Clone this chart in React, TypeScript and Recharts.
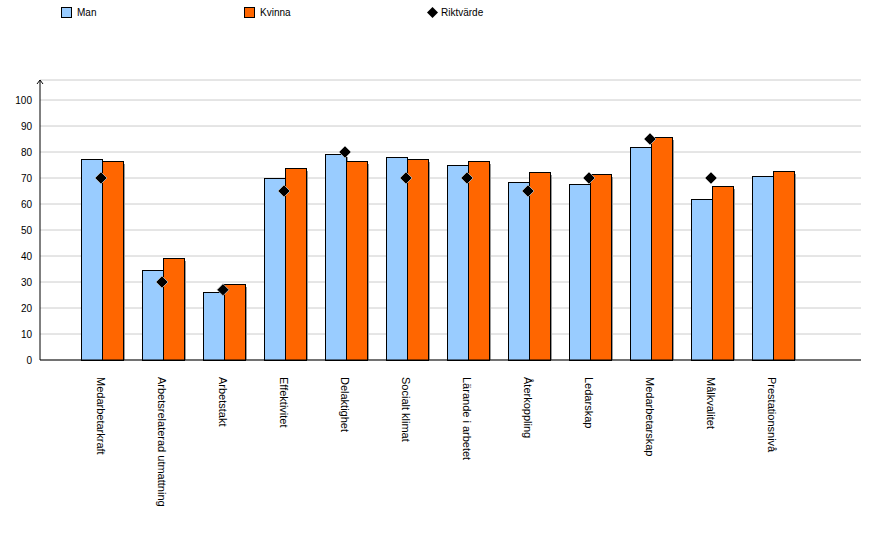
import React from "react";
import {
    ComposedChart,
    Bar,
    Line,
    XAxis,
    YAxis,
    CartesianGrid,
} from "recharts";

const categories = [
    "Medarbetarkraft",
    "Arbetsrelaterad utmattning",
    "Arbetstakt",
    "Effektivitet",
    "Delaktighet",
    "Socialt klimat",
    "Lärande i arbetet",
    "Återkoppling",
    "Ledarskap",
    "Medarbetarskap",
    "Målkvalitet",
    "Prestationsnivå",
];
const man = [77.2, 34.5, 26.0, 69.9, 79.1, 78.0, 74.9, 68.3, 67.6, 81.8, 61.8, 70.7];
const kvinna = [76.4, 39.1, 29.1, 73.7, 76.4, 77.2, 76.4, 72.2, 71.4, 85.6, 66.8, 72.6];
const riktvarde = [70, 30, 27, 65, 80, 70, 70, 65, 70, 85, 70, null];
const yTicks = [0, 10, 20, 30, 40, 50, 60, 70, 80, 90, 100];

const FONT = "'Liberation Sans', Arial, sans-serif";
const BLUE = "#99CCFF";
const ORANGE = "#FF6600";

const data = categories.map((name, i) => ({
    name,
    man: man[i],
    kvinna: kvinna[i],
    rikt: riktvarde[i],
}));

// bar with the grey drop shadow on its right side
const ShadowBar = (props: any) => {
    const { x, y, width, height, fill } = props;
    if (!height || height <= 0) return null;
    const rx = Math.round(x);
    const ry = Math.round(y);
    const rw = Math.round(width);
    const rh = Math.round(height);
    return (
        <g>
            <rect x={rx + 2} y={ry + 3} width={rw} height={rh - 3} fill="#999999" />
            <rect
                x={rx + 0.5}
                y={ry + 0.5}
                width={rw}
                height={rh}
                fill={fill}
                stroke="#000"
                strokeWidth={1}
            />
        </g>
    );
};

const Diamond = (props: any) => {
    const { cx, cy, payload } = props;
    if (payload?.rikt == null || cx == null || cy == null) return null;
    const r = 6;
    return (
        <path
            d={`M${cx},${cy - r} L${cx + r},${cy} L${cx},${cy + r} L${cx - r},${cy} Z`}
            fill="#000"
            stroke="#bbbbbb"
            strokeWidth={0.8}
        />
    );
};

const RotatedTick = (props: any) => {
    const { x, y, payload } = props;
    return (
        <g transform={`translate(${x},${y + 9})`}>
            <text
                transform="rotate(90)"
                textAnchor="start"
                dy="0.35em"
                fontSize={11}
                fontFamily={FONT}
                fill="#000"
            >
                {payload.value}
            </text>
        </g>
    );
};

// little arrow head on top of the y axis
const AxisArrow = (props: any) => {
    const { viewBox } = props;
    if (!viewBox) return null;
    const ax = viewBox.x + viewBox.width;
    const ay = viewBox.y;
    return <path d={`M${ax - 3},${ay + 4} L${ax},${ay} L${ax + 3},${ay + 4}`} fill="none" stroke="#000" />;
};

const legendItems = [
    { label: "Man", color: BLUE, left: 61, kind: "box" },
    { label: "Kvinna", color: ORANGE, left: 244, kind: "box" },
    { label: "Riktvärde", color: "#000", left: 427, kind: "diamond" },
];

export default function App() {
    return (
        <div style={{ position: "absolute", left: 0, top: 0, width: 895, height: 550, background: "#fff", fontFamily: FONT }}>
            {legendItems.map((it) => (
                <div
                    key={it.label}
                    style={{ position: "absolute", left: it.left, top: 7, display: "flex", alignItems: "center", fontSize: 10, color: "#000" }}
                >
                    {it.kind === "box" ? (
                        <div style={{ width: 9, height: 9, background: it.color, border: "1px solid #000", marginRight: 5 }}></div>
                    ) : (
                        <svg width={11} height={11} style={{ marginRight: 3 }}>
                            <path d="M5.5,0 L11,5.5 L5.5,11 L0,5.5 Z" fill="#000" />
                        </svg>
                    )}
                    {it.label}
                </div>
            ))}
            <div style={{ position: "absolute", left: 0, top: 0 }}>
                <ComposedChart
                    width={895}
                    height={550}
                    data={data}
                    margin={{ top: 80, right: 34, left: 0, bottom: 0 }}
                    barGap={0}
                    barSize={21}
                >
                    <CartesianGrid horizontal vertical={false} stroke="#cccccc" />
                    <XAxis
                        dataKey="name"
                        interval={0}
                        height={190}
                        tickLine={false}
                        axisLine={{ stroke: "#000" }}
                        padding={{ left: 30.5, right: 58.5 }}
                        tick={<RotatedTick />}
                    />
                    <YAxis
                        width={40}
                        domain={[0, 107.7]}
                        ticks={yTicks}
                        tickLine={false}
                        axisLine={{ stroke: "#000" }}
                        tick={{ fontSize: 10, fontFamily: FONT, fill: "#000" }}
                        label={{ content: <AxisArrow /> }}
                    />
                    <Bar dataKey="man" name="Man" fill={BLUE} shape={<ShadowBar />} isAnimationActive={false} />
                    <Bar dataKey="kvinna" name="Kvinna" fill={ORANGE} shape={<ShadowBar />} isAnimationActive={false} />
                    <Line
                        dataKey="rikt"
                        name="Riktvärde"
                        stroke="none"
                        strokeWidth={0}
                        dot={<Diamond />}
                        activeDot={false}
                        isAnimationActive={false}
                    />
                </ComposedChart>
            </div>
        </div>
    );
}
